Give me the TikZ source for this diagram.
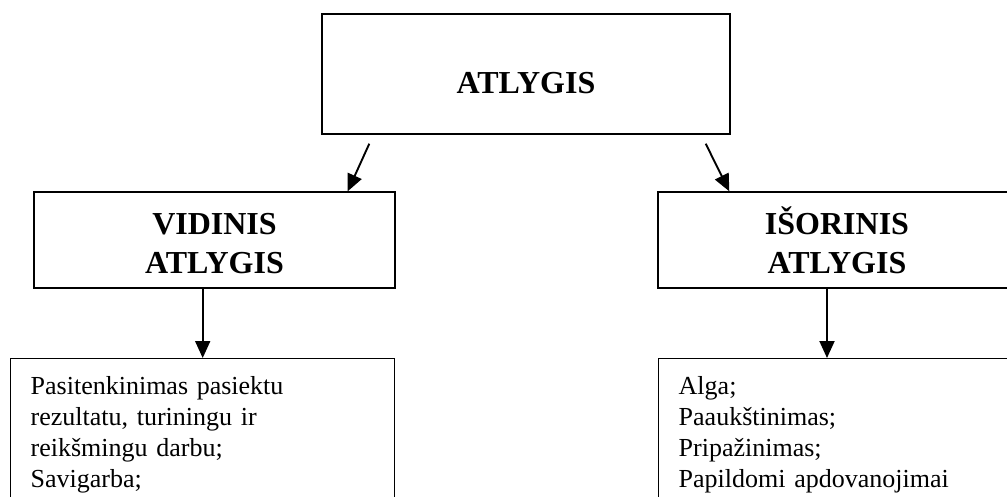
\documentclass[tikz,border=0pt]{standalone}
\usepackage{fontspec}
\setmainfont{Liberation Serif}
\usetikzlibrary{arrows.meta}

\begin{document}
\begin{tikzpicture}[x=1pt, y=-1pt, >={Triangle[length=17pt,width=15pt]},
    headbox/.style={draw=black, line width=1.4pt, align=center,
        font=\fontsize{32}{39}\selectfont\bfseries},
    listbox/.style={draw=black, line width=1.4pt, anchor=north west, align=left,
        inner xsep=20pt, inner ysep=18pt, text depth=140pt,
        font=\fontsize{26}{31}\selectfont},
    link/.style={->, line width=1.9pt}]
        \useasboundingbox (0,0) rectangle (1007,496);
        \clip (0,0) rectangle (1007,496);

        % Top box
        \node[headbox, minimum width=408pt, minimum height=120pt, text height=39pt, text depth=0pt] (top) at (526,74) {ATLYGIS};

        % Second level
        \node[headbox, minimum width=361pt, minimum height=96pt] (vid) at (214.5,240) {\vphantom{Š}VIDINIS\\ATLYGIS};
        \node[headbox, minimum width=358pt, minimum height=96pt] (isor) at (837,240) {IŠORINIS\\ATLYGIS};

        % Lists
        \node[listbox, text width=344pt] (vidlist) at (10,358) {Pasitenkinimas pasiektu\\rezultatu, turiningu ir\\reikšmingu darbu;\\Savigarba;};
        \node[listbox, text width=360pt] (isorlist) at (658,358) {Alga;\\Paaukštinimas;\\Pripažinimas;\\Papildomi apdovanojimai};

        % Connections
        \draw[link] ([xshift=48pt,yshift=-9pt]top.south west) -- ([xshift=-48pt]vid.north east);
        \draw[link] ([xshift=-25pt,yshift=-9pt]top.south east) -- ([xshift=72pt]isor.north west);
        \draw[link] (vid.south -| vidlist.north) -- (vidlist.north);
        \draw[link] ([xshift=-10pt]isor.south) -- ([xshift=-10pt]isor.south |- isorlist.north);
    \end{tikzpicture}
\end{document}
